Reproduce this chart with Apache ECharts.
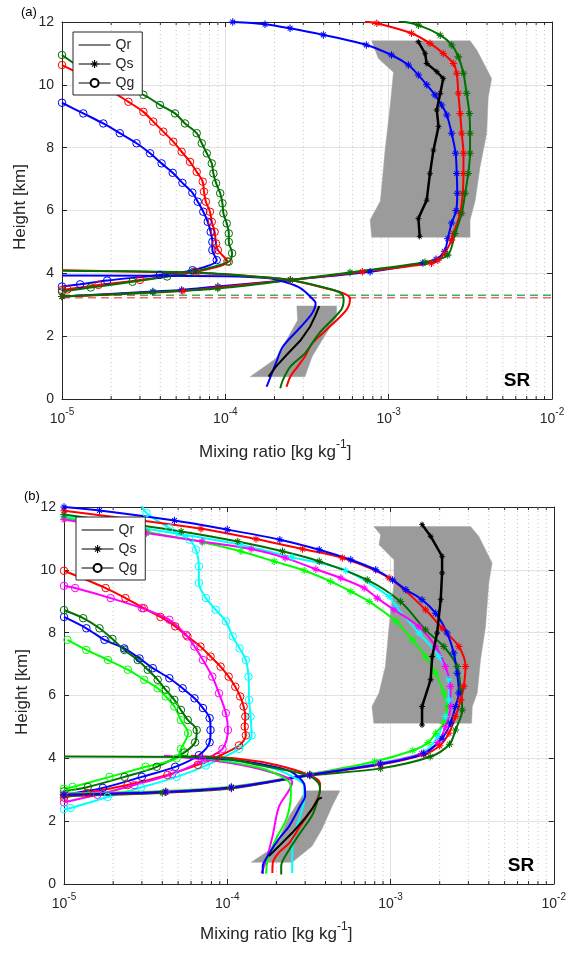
<!DOCTYPE html>
<html><head><meta charset="utf-8">
<script src="https://cdn.jsdelivr.net/npm/echarts@6/dist/echarts.min.js"></script>
<style>html,body{margin:0;padding:0;background:#fff}#c{width:569px;height:954px}</style>
</head><body><div id="c"></div>
<script>
// ---------- axes ----------
const xMin = 1e-5, xMax = 1e-2, yMin = 0, yMax = 12, yStep = 2;
const decades = [1e-5, 1e-4, 1e-3];
const minorMult = [2, 3, 4, 5, 6, 7, 8, 9];
const legendNames = ['Qr', 'Qs', 'Qg'];
const panelLabels = ['(a)', '(b)'];
const regionLabel = 'SR';

// ---------- panel (a): [mixing ratio, height km] ----------
const a_blue_Qs = [[1.11e-4,12.0],[1.75e-4,11.93],[2.49e-4,11.8],[3.98e-4,11.59],[7.3e-4,11.27],[1.04e-3,10.95],[1.32e-3,10.63],[1.52e-3,10.31],[1.71e-3,10.0],[1.92e-3,9.68],[2.11e-3,9.36],[2.27e-3,9.04],[2.43e-3,8.46],[2.57e-3,7.82],[2.61e-3,7.18],[2.63e-3,6.55],[2.59e-3,6.0],[2.43e-3,5.6],[2.3e-3,5.1],[2.2e-3,4.7],[1.95e-3,4.45],[1.62e-3,4.33],[7.7e-4,4.05],[2.5e-4,3.79],[9e-5,3.58],[5.4e-5,3.47],[3.6e-5,3.42],[1e-5,3.26]];
const a_red_Qs = [[7.16e-4,12.01],[8.46e-4,11.96],[1.38e-3,11.64],[1.79e-3,11.32],[2.16e-3,11.0],[2.49e-3,10.68],[2.61e-3,10.37],[2.67e-3,9.73],[2.74e-3,9.09],[2.8e-3,8.46],[2.87e-3,7.82],[2.87e-3,7.18],[2.84e-3,6.55],[2.74e-3,5.91],[2.49e-3,5.27],[2.43e-3,5.06],[2.2e-3,4.64],[2.0e-3,4.42],[1.83e-3,4.32],[6.9e-4,4.05],[2.5e-4,3.79],[9e-5,3.55],[5.5e-5,3.44],[1e-5,3.26]];
const a_green_Qs = [[1.15e-3,12.04],[1.52e-3,11.9],[2.07e-3,11.58],[2.43e-3,11.27],[2.67e-3,10.89],[2.87e-3,10.37],[3.0e-3,9.73],[3.12e-3,9.09],[3.15e-3,8.46],[3.15e-3,7.82],[3.07e-3,7.18],[2.94e-3,6.55],[2.8e-3,5.91],[2.55e-3,5.27],[2.3e-3,4.58],[1.67e-3,4.35],[5.8e-4,4.03],[2.5e-4,3.79],[9e-5,3.52],[3.6e-5,3.4],[1e-5,3.26]];
const a_blue_Qg = [[1e-5,9.43],[1.35e-5,9.09],[1.79e-5,8.77],[2.26e-5,8.46],[2.86e-5,8.14],[3.46e-5,7.82],[4.07e-5,7.5],[4.76e-5,7.2],[5.46e-5,6.88],[6.28e-5,6.57],[6.78e-5,6.28],[7.33e-5,5.96],[7.8e-5,5.64],[8.13e-5,5.32],[8.33e-5,5.0],[8.33e-5,4.74],[8.86e-5,4.42],[6.3e-5,4.1],[3.97e-5,3.95],[1.89e-5,3.77],[1.29e-5,3.65],[1e-5,3.58]];
const a_red_Qg = [[1e-5,10.63],[1.6e-5,10.1],[2.55e-5,9.46],[3.15e-5,9.14],[3.62e-5,8.83],[4.17e-5,8.51],[4.8e-5,8.19],[5.4e-5,7.87],[6.08e-5,7.55],[6.68e-5,7.23],[7.27e-5,6.92],[7.4e-5,6.6],[7.6e-5,6.28],[8.05e-5,5.96],[8.26e-5,5.64],[8.6e-5,5.32],[8.77e-5,4.95],[9e-5,4.74],[1.03e-4,4.38],[6.6e-5,4.05],[3e-5,3.79],[1.67e-5,3.63],[1.08e-5,3.49],[1e-5,3.47]];
const a_green_Qg = [[1e-5,10.95],[1.32e-5,10.52],[1.97e-5,9.99],[3.15e-5,9.68],[3.98e-5,9.36],[4.92e-5,9.09],[5.66e-5,8.77],[6.68e-5,8.46],[7.17e-5,8.14],[7.7e-5,7.82],[8.26e-5,7.5],[8.45e-5,7.18],[8.78e-5,6.87],[9.3e-5,6.55],[9.6e-5,6.23],[9.73e-5,5.91],[1.02e-4,5.59],[1.05e-4,5.27],[1.05e-4,5.0],[1.1e-4,4.64],[1.05e-4,4.37],[6.4e-5,4.05],[4.4e-5,3.9],[2.7e-5,3.73],[1.5e-5,3.55],[1e-5,3.42]];
const a_blue_Qr = [[1e-5,3.93],[1e-4,3.91],[1.8e-4,3.85],[2.4e-4,3.7],[2.9e-4,3.52],[3.4e-4,3.2],[3.57e-4,3.05],[3.4e-4,2.73],[2.9e-4,2.3],[2.25e-4,1.67],[2.04e-4,1.14],[1.79e-4,0.39]];
const a_red_Qr = [[1e-5,4.1],[7.3e-5,4.0],[1.5e-4,3.9],[2.5e-4,3.79],[4.15e-4,3.52],[5.3e-4,3.36],[5.8e-4,3.2],[5.5e-4,2.83],[4.15e-4,2.2],[3.4e-4,1.77],[3.07e-4,1.35],[2.77e-4,1.03],[2.5e-4,0.71],[2.37e-4,0.39]];
const a_green_Qr = [[1e-5,4.08],[7e-5,4.02],[1.5e-4,3.9],[2.5e-4,3.79],[4.6e-4,3.47],[5.2e-4,3.33],[5.3e-4,3.15],[5.1e-4,2.83],[3.75e-4,2.09],[3.07e-4,1.45],[2.5e-4,1.03],[2.25e-4,0.6],[2.17e-4,0.34]];
const a_obs_Qr = [[1.84e-4,0.71],[2.04e-4,1.03],[2.37e-4,1.4],[2.9e-4,1.88],[3.3e-4,2.3],[3.57e-4,2.67],[3.76e-4,2.96]];
const a_obs_Qs = [[1.52e-3,11.37],[1.67e-3,11.0],[1.71e-3,10.68],[1.97e-3,10.42],[2.16e-3,10.2],[2.07e-3,9.73],[1.97e-3,9.2],[2.02e-3,8.67],[1.88e-3,7.92],[1.79e-3,7.18],[1.71e-3,6.33],[1.52e-3,5.75],[1.55e-3,5.17]];
const a_envQr_left = [[1.42e-4,0.71],[2.04e-4,1.29],[2.37e-4,1.88],[2.77e-4,2.51],[2.74e-4,2.96]];
const a_envQr_right = [[3.07e-4,0.71],[3.4e-4,1.35],[4.15e-4,2.09],[4.8e-4,2.62],[4.8e-4,2.96]];
const a_envQs_left = [[7.87e-4,11.4],[8.65e-4,10.84],[1.07e-3,10.4],[1.02e-3,9.3],[9.5e-4,7.9],[8.9e-4,6.3],[7.7e-4,5.7],[7.87e-4,5.15]];
const a_envQs_right = [[3.15e-3,11.4],[3.47e-3,11.1],[4.27e-3,10.2],[4.07e-3,9.6],[3.98e-3,8.45],[3.63e-3,7.4],[3.39e-3,6.33],[3.15e-3,5.7],[3.15e-3,5.15]];
const a_melt_levels = [3.3, 3.22];

// ---------- panel (b) ----------
const b_blue_Qs = [[1e-5,12.0],[1.65e-5,11.89],[4.75e-5,11.57],[1.0e-4,11.28],[2.1e-4,10.96],[3.66e-4,10.64],[5.71e-4,10.32],[8.12e-4,10.0],[1.03e-3,9.68],[1.24e-3,9.37],[1.56e-3,9.05],[1.89e-3,8.62],[2.22e-3,7.99],[2.44e-3,7.35],[2.56e-3,6.71],[2.62e-3,6.08],[2.5e-3,5.65],[2.33e-3,5.12],[2.07e-3,4.64],[1.6e-3,4.15],[8.7e-4,3.82],[3.2e-4,3.47],[1.06e-4,3.07],[4.2e-5,2.93],[1e-5,2.84]];
const b_red_Qs = [[1e-5,11.88],[6.9e-5,11.31],[1.5e-4,10.98],[2.89e-4,10.66],[5.07e-4,10.38],[9.8e-4,9.74],[1.64e-3,8.73],[2.07e-3,8.14],[2.62e-3,7.56],[2.88e-3,6.92],[2.81e-3,6.29],[2.69e-3,5.86],[2.5e-3,5.33],[2.28e-3,4.8],[2.0e-3,4.4],[1.6e-3,4.12],[8.7e-4,3.8],[3.2e-4,3.47],[1.06e-4,3.06],[4.2e-5,2.92],[1e-5,2.83]];
const b_dkgreen_Qs = [[1e-5,11.76],[5.22e-5,11.22],[1.16e-4,10.9],[2.18e-4,10.59],[3.66e-4,10.27],[7.2e-4,9.68],[1.15e-3,8.99],[1.64e-3,8.09],[2.12e-3,7.56],[2.56e-3,6.92],[2.69e-3,6.18],[2.75e-3,5.54],[2.5e-3,4.9],[2.3e-3,4.45],[1.75e-3,4.05],[8.7e-4,3.68],[3.2e-4,3.45],[1.06e-4,3.04],[4e-5,2.9],[1e-5,2.8]];
const b_magenta_Qs = [[1e-5,11.6],[3.2e-5,11.17],[7e-5,10.9],[1.4e-4,10.66],[2.26e-4,10.38],[3.49e-4,10.02],[4.96e-4,9.74],[6.89e-4,9.42],[8.3e-4,9.1],[1.05e-3,8.73],[1.49e-3,8.2],[1.89e-3,7.56],[2.17e-3,6.92],[2.33e-3,6.29],[2.33e-3,5.65],[2.17e-3,5.01],[1.95e-3,4.5],[1.55e-3,4.15],[8.5e-4,3.83],[3.2e-4,3.48],[1.06e-4,3.08],[4.2e-5,2.94],[1e-5,2.86]];
const b_cyan_Qs = [[1e-5,11.7],[5e-5,11.15],[1.2e-4,10.8],[2.5e-4,10.4],[5.31e-4,9.98],[9.8e-4,9.15],[1.08e-3,8.83],[1.49e-3,7.99],[1.98e-3,7.24],[2.28e-3,6.5],[2.28e-3,5.86],[2.17e-3,5.33],[1.95e-3,4.7],[1.6e-3,4.2],[8.5e-4,3.85],[3.2e-4,3.48],[1.06e-4,3.08],[4.2e-5,2.94],[1e-5,2.87]];
const b_lime_Qs = [[1e-5,11.65],[3.26e-5,11.2],[7.08e-5,10.88],[1.21e-4,10.59],[1.94e-4,10.27],[2.96e-4,9.98],[4.3e-4,9.63],[5.71e-4,9.31],[7.4e-4,8.99],[1.08e-3,8.36],[1.36e-3,7.77],[1.64e-3,7.24],[1.89e-3,6.71],[2.12e-3,6.08],[2.22e-3,5.65],[2.12e-3,5.12],[1.89e-3,4.8],[1.7e-3,4.5],[1.37e-3,4.25],[8e-4,3.9],[3.2e-4,3.5],[1.06e-4,3.1],[4.2e-5,2.96],[1e-5,2.88]];
const b_blue_Qg = [[1e-5,8.5],[1.37e-5,8.14],[1.77e-5,7.77],[2.34e-5,7.5],[2.9e-5,7.18],[3.5e-5,6.87],[4.42e-5,6.55],[5.33e-5,6.23],[6.3e-5,5.91],[7.1e-5,5.6],[7.8e-5,5.28],[7.9e-5,4.9],[7.8e-5,4.51],[6.7e-5,4.1],[4.8e-5,3.73],[3e-5,3.41],[1.73e-5,3.06],[1e-5,2.85]];
const b_red_Qg = [[1e-5,9.97],[1.8e-5,9.42],[2.38e-5,9.1],[3.08e-5,8.78],[3.9e-5,8.5],[4.8e-5,8.2],[5.7e-5,7.88],[6.85e-5,7.56],[7.9e-5,7.24],[9.1e-5,6.92],[1.02e-4,6.6],[1.12e-4,6.28],[1.2e-4,5.97],[1.26e-4,5.65],[1.29e-4,5.33],[1.28e-4,5.01],[1.3e-4,4.73],[1.18e-4,4.41],[8.7e-5,4.05],[6.6e-5,3.79],[4.3e-5,3.47],[2.45e-5,3.15],[1.38e-5,2.9],[1e-5,2.75]];
const b_dkgreen_Qg = [[1e-5,8.72],[1.31e-5,8.46],[1.65e-5,8.14],[1.98e-5,7.8],[2.34e-5,7.45],[2.83e-5,7.13],[3.26e-5,6.82],[3.75e-5,6.5],[4.2e-5,6.18],[4.74e-5,5.86],[5.2e-5,5.54],[5.73e-5,5.22],[6.5e-5,4.9],[6.36e-5,4.51],[5.47e-5,4.19],[3.7e-5,3.73],[2.35e-5,3.41],[1.4e-5,3.09],[1e-5,2.95]];
const b_magenta_Qg = [[1e-5,9.49],[1.17e-5,9.42],[1.93e-5,9.1],[3.0e-5,8.78],[4.42e-5,8.41],[5.6e-5,7.93],[6.3e-5,7.56],[7.1e-5,7.13],[8.1e-5,6.6],[8.9e-5,6.07],[9.8e-5,5.44],[1.01e-4,4.9],[9.35e-5,4.3],[7.06e-5,3.93],[4.6e-5,3.5],[2.7e-5,3.15],[1.6e-5,2.84],[1e-5,2.6]];
const b_cyan_Qg = [[2.9e-5,12.2],[3.2e-5,11.81],[4.42e-5,11.33],[5.86e-5,10.96],[6.44e-5,10.64],[6.7e-5,10.11],[6.7e-5,9.58],[7.4e-5,9.1],[8.5e-5,8.73],[9.8e-5,8.36],[1.08e-4,7.88],[1.19e-4,7.5],[1.3e-4,7.13],[1.35e-4,6.6],[1.36e-4,5.86],[1.39e-4,5.33],[1.41e-4,4.73],[1.18e-4,4.3],[7.4e-5,3.77],[4.9e-5,3.41],[2.96e-5,3.07],[1.85e-5,2.77],[1.1e-5,2.42],[1e-5,2.38]];
const b_lime_Qg = [[1.05e-5,7.77],[1.37e-5,7.45],[1.86e-5,7.13],[2.46e-5,6.82],[3.1e-5,6.5],[3.75e-5,6.23],[4.2e-5,5.97],[4.74e-5,5.65],[5.2e-5,5.22],[5.75e-5,4.8],[5.2e-5,4.3],[4.9e-5,4.0],[3.16e-5,3.73],[1.9e-5,3.41],[1.13e-5,3.09],[1e-5,3.03]];
const b_blue_Qr = [[5e-5,4.06],[1.1e-4,3.95],[1.6e-4,3.82],[2.4e-4,3.6],[2.96e-4,3.18],[3.0e-4,2.81],[2.8e-4,2.49],[2.4e-4,1.85],[2.06e-4,1.42],[1.77e-4,0.89],[1.65e-4,0.57],[1.65e-4,0.33]];
const b_red_Qr = [[6e-5,4.08],[1.2e-4,3.98],[2.0e-4,3.79],[3.18e-4,3.47],[3.7e-4,3.2],[3.7e-4,3.02],[3.4e-4,2.49],[2.8e-4,1.85],[2.4e-4,1.31],[2.06e-4,0.99],[1.9e-4,0.67],[1.89e-4,0.35]];
const b_dkgreen_Qr = [[1e-5,4.06],[8.7e-5,4.03],[1.45e-4,3.82],[3.1e-4,3.47],[3.6e-4,3.23],[3.7e-4,3.02],[3.6e-4,2.7],[3.3e-4,2.17],[2.8e-4,1.63],[2.4e-4,1.1],[2.14e-4,0.57],[2.14e-4,0.3]];
const b_magenta_Qr = [[4.1e-5,4.08],[9e-5,3.9],[1.6e-4,3.65],[2.5e-4,3.25],[2.4e-4,3.0],[2.07e-4,2.45],[1.89e-4,1.5],[1.73e-4,0.75],[1.62e-4,0.35]];
const b_cyan_Qr = [[5.5e-5,4.05],[1.2e-4,3.9],[1.97e-4,3.66],[2.67e-4,3.34],[2.96e-4,3.13],[2.96e-4,2.7],[2.8e-4,2.17],[2.6e-4,1.63],[2.5e-4,1.1],[2.5e-4,0.35]];
const b_lime_Qr = [[5.1e-5,4.11],[1.58e-4,3.7],[2.4e-4,3.25],[2.45e-4,3.0],[2.45e-4,2.81],[2.3e-4,2.06],[1.98e-4,1.42],[1.77e-4,0.78],[1.73e-4,0.33]];
const b_obs_Qr = [[1.8e-4,0.89],[2.17e-4,1.31],[2.5e-4,1.63],[2.96e-4,2.06],[3.3e-4,2.38],[3.6e-4,2.7],[3.8e-4,2.75]];
const b_obs_Qs = [[1.56e-3,11.44],[1.76e-3,11.07],[2.07e-3,10.43],[2.07e-3,9.9],[2.03e-3,9.05],[1.93e-3,7.99],[1.8e-3,7.24],[1.76e-3,6.5],[1.56e-3,5.65],[1.56e-3,5.06]];
const b_envQr_left = [[1.4e-4,0.69],[1.97e-4,1.2],[2.4e-4,2.17],[2.8e-4,2.7],[3.0e-4,2.97]];
const b_envQr_right = [[2.5e-4,0.69],[3.3e-4,1.2],[3.8e-4,1.74],[4.4e-4,2.49],[4.9e-4,2.97]];
const b_envQs_left = [[7.9e-4,11.38],[8.7e-4,11.12],[8.5e-4,10.8],[1.05e-3,10.32],[1.05e-3,9.58],[9.8e-4,8.2],[9.3e-4,6.92],[8.5e-4,6.08],[7.7e-4,5.65],[7.9e-4,5.12]];
const b_envQs_right = [[3.09e-3,11.38],[3.47e-3,11.07],[4.19e-3,10.22],[4.0e-3,9.58],[3.82e-3,8.2],[3.56e-3,7.14],[3.4e-3,6.08],[3.17e-3,5.65],[3.14e-3,5.12]];

// ---------- styling ----------
const C = {blue:'#0000ff', red:'#ff0000', dkgreen:'#007000', magenta:'#ff00ff', cyan:'#00ffff', lime:'#00ff00', black:'#000000'};
const INK = '#262626', GRIDC = '#e2e2e2', FONT = '"Liberation Sans", Arial, sans-serif';
const STAR = 'path://M8.6 0L11.4 0L11.4 20L8.6 20ZM0 8.6L20 8.6L20 11.4L0 11.4ZM2.6 4.4L4.4 2.6L17.4 15.6L15.6 17.4ZM15.6 2.6L17.4 4.4L4.4 17.4L2.6 15.6Z';

const minorVals = [];
decades.forEach(d => minorMult.forEach(m => minorVals.push([d * m, yMin])));

function prof(data, color, kind, gi) {
  const s = {type:'line', xAxisIndex: gi*2, yAxisIndex: gi*2, data: data, smooth: 0.3,
    lineStyle:{color: color, width: 2}, itemStyle:{color: color},
    emphasis:{disabled:true}, silent:true, animation:false, z: 3};
  if (kind === 'r') s.symbol = 'none';
  else if (kind === 's') { s.symbol = STAR; s.symbolSize = 7.5; }
  else { s.symbol = 'circle'; s.symbolSize = 7.5; s.itemStyle = {color:'rgba(0,0,0,0)', borderColor: color, borderWidth: 1}; }
  return s;
}
function minorSeries(gi) {
  return {type:'custom', xAxisIndex: gi*2, yAxisIndex: gi*2, data: minorVals, silent:true, z:1, animation:false,
    encode:{x:0, y:1},
    renderItem: function (params, api) {
      const v = api.value(0);
      const p0 = api.coord([v, yMin]), p1 = api.coord([v, yMax]);
      return {type:'group', children:[
        {type:'line', shape:{x1:p0[0], y1:p0[1], x2:p1[0], y2:p1[1]}, style:{stroke:'#c4c4c4', lineWidth:1, lineDash:[1,3]}},
        {type:'line', shape:{x1:p0[0], y1:p0[1], x2:p0[0], y2:p0[1]-3}, style:{stroke:INK, lineWidth:1}},
        {type:'line', shape:{x1:p1[0], y1:p1[1], x2:p1[0], y2:p1[1]+3}, style:{stroke:INK, lineWidth:1}}
      ]};
    }};
}
function envSeries(left, right, gi) {
  const poly = left.concat(right.slice().reverse());
  return {type:'custom', xAxisIndex: gi*2, yAxisIndex: gi*2, data: poly, silent:true, z:2, animation:false,
    encode:{x:0, y:1},
    renderItem: function (params, api) {
      if (params.dataIndex !== 0) return null;
      const pts = poly.map(p => api.coord(p));
      return {type:'polygon', shape:{points: pts}, style:{fill:'#9b9b9b', stroke:'#a6a6a6', lineWidth:0.5}};
    }};
}
function obsSeries(data, gi, star) {
  return {type:'line', xAxisIndex: gi*2, yAxisIndex: gi*2, data: data, smooth:false,
    symbol: star ? STAR : 'none', symbolSize: 6,
    lineStyle:{color:'#000', width: star ? 2.5 : 2}, itemStyle:{color:'#000'},
    emphasis:{disabled:true}, silent:true, animation:false, z:4};
}

const labelFmt = v => '{b|10}{s|' + Math.round(Math.log10(v)) + '}';
const richLab = {b:{fontSize:14, color:INK, fontFamily:FONT, padding:[6,0,0,0]}, s:{fontSize:10, color:INK, fontFamily:FONT, padding:[0,0,7,0]}};

const grids = [{left:62, top:22, width:490, height:377}, {left:64, top:507, width:491, height:377}];
const xAxes = [], yAxes = [];
grids.forEach((g, i) => {
  xAxes.push({gridIndex:i, type:'log', logBase:10, min:xMin, max:xMax, position:'bottom',
    axisLine:{show:true, onZero:false, lineStyle:{color:INK, width:1}},
    axisTick:{show:true, inside:true, length:5, lineStyle:{color:INK}},
    axisLabel:{show:true, formatter: labelFmt, rich: richLab, margin:7},
    splitLine:{show:true, lineStyle:{color:GRIDC, width:1}}, minorTick:{show:false}});
  xAxes.push({gridIndex:i, type:'log', logBase:10, min:xMin, max:xMax, position:'top',
    axisLine:{show:true, onZero:false, lineStyle:{color:INK, width:1}},
    axisTick:{show:true, inside:true, length:5, lineStyle:{color:INK}},
    axisLabel:{show:false}, splitLine:{show:false}});
  yAxes.push({gridIndex:i, type:'value', min:yMin, max:yMax, interval:yStep, position:'left',
    axisLine:{show:true, onZero:false, lineStyle:{color:INK, width:1}},
    axisTick:{show:true, inside:true, length:5, lineStyle:{color:INK}},
    axisLabel:{show:true, fontSize:14, color:INK, fontFamily:FONT, margin:8},
    splitLine:{show:true, lineStyle:{color:GRIDC, width:1}}});
  yAxes.push({gridIndex:i, type:'value', min:yMin, max:yMax, interval:yStep, position:'right',
    axisLine:{show:true, onZero:false, lineStyle:{color:INK, width:1}},
    axisTick:{show:true, inside:true, length:5, lineStyle:{color:INK}},
    axisLabel:{show:false}, splitLine:{show:false}});
});

const series = [];
// panel a
series.push(minorSeries(0));
series.push(envSeries(a_envQr_left, a_envQr_right, 0));
series.push(envSeries(a_envQs_left, a_envQs_right, 0));
const meltColors = ['rgba(40,170,70,0.9)', 'rgba(240,80,90,0.85)'];
a_melt_levels.forEach((h, k) => series.push({type:'line', xAxisIndex:0, yAxisIndex:0, data:[[xMin, h],[xMax, h]], symbol:'none',
  lineStyle:{color: meltColors[k], width:1.5, type:[8,5]}, silent:true, animation:false, z:2}));
[[a_blue_Qg,'blue'],[a_red_Qg,'red'],[a_green_Qg,'dkgreen']].forEach(p => series.push(prof(p[0], C[p[1]], 'g', 0)));
[[a_blue_Qs,'blue'],[a_red_Qs,'red'],[a_green_Qs,'dkgreen']].forEach(p => series.push(prof(p[0], C[p[1]], 's', 0)));
[[a_blue_Qr,'blue'],[a_red_Qr,'red'],[a_green_Qr,'dkgreen']].forEach(p => series.push(prof(p[0], C[p[1]], 'r', 0)));
series.push(obsSeries(a_obs_Qs, 0, true));
series.push(obsSeries(a_obs_Qr, 0, false));
// panel b
series.push(minorSeries(1));
series.push(envSeries(b_envQr_left, b_envQr_right, 1));
series.push(envSeries(b_envQs_left, b_envQs_right, 1));
series.push(obsSeries(b_obs_Qs, 1, true));
[[b_blue_Qg,'blue'],[b_red_Qg,'red'],[b_dkgreen_Qg,'dkgreen'],[b_magenta_Qg,'magenta'],[b_cyan_Qg,'cyan'],[b_lime_Qg,'lime']].forEach(p => series.push(prof(p[0], C[p[1]], 'g', 1)));
[[b_cyan_Qs,'cyan'],[b_lime_Qs,'lime'],[b_magenta_Qs,'magenta'],[b_dkgreen_Qs,'dkgreen'],[b_red_Qs,'red'],[b_blue_Qs,'blue']].forEach(p => series.push(prof(p[0], C[p[1]], 's', 1)));
[[b_cyan_Qr,'cyan'],[b_magenta_Qr,'magenta'],[b_lime_Qr,'lime'],[b_blue_Qr,'blue'],[b_red_Qr,'red'],[b_dkgreen_Qr,'dkgreen']].forEach(p => series.push(prof(p[0], C[p[1]], 'r', 1)));
series.push(obsSeries(b_obs_Qr, 1, false));
// legend entries
series.push({type:'line', name:legendNames[0], xAxisIndex:0, yAxisIndex:0, data:[], symbol:'none', lineStyle:{color:'#000', width:1.2}, itemStyle:{color:'#000'}});
series.push({type:'line', name:legendNames[1], xAxisIndex:0, yAxisIndex:0, data:[], symbol:STAR, symbolSize:7, lineStyle:{color:'#000', width:1.2}, itemStyle:{color:'#000'}});
series.push({type:'line', name:legendNames[2], xAxisIndex:0, yAxisIndex:0, data:[], symbol:'circle', symbolSize:7, lineStyle:{color:'#000', width:1.2}, itemStyle:{color:'#fff', borderColor:'#000', borderWidth:1}});

function legend(left, top) {
  return {data: [
      {name: legendNames[0], itemStyle:{color:'rgba(0,0,0,0)', borderColor:'rgba(0,0,0,0)', borderWidth:0}},
      {name: legendNames[1]},
      {name: legendNames[2]}],
    orient:'vertical', left:left, top:top, itemWidth:32, itemHeight:10, itemGap:5,
    lineStyle:{color:'#000', width:1.2},
    padding:[6,8,5,5], backgroundColor:'#fff', borderColor:INK, borderWidth:1, borderRadius:0,
    selectedMode:false, textStyle:{fontSize:14, color:INK, fontFamily:FONT}, z:10};
}

function xTitle(cx, cy) {
  return {type:'text', left:cx - 94, top:cy - 12, z:20, style:{text:'{t|Mixing ratio [kg kg}{s|-1}{t|]}',
    rich:{t:{fontSize:17, fill:INK, fontFamily:FONT, padding:[6,0,0,0]}, s:{fontSize:12, fill:INK, fontFamily:FONT, padding:[0,0,8,0]}}}};
}
function yTitle(cx, cy) {
  return {type:'text', x:cx, y:cy, rotation:Math.PI/2, z:20, style:{text:'Height [km]', font:'17px ' + FONT, fill:INK, align:'center', verticalAlign:'middle'}};
}
const graphics = [
  {type:'text', left:21, top:6, z:20, style:{text:panelLabels[0], font:'13px ' + FONT, fill:'#000'}},
  {type:'text', left:24, top:490, z:20, style:{text:panelLabels[1], font:'13px ' + FONT, fill:'#000'}},
  yTitle(20, 207), yTitle(22, 692),
  xTitle(293, 451), xTitle(294, 933),
  {type:'text', x:517, y:381, z:20, style:{text:regionLabel, font:'bold 19px ' + FONT, fill:'#000', align:'center', verticalAlign:'middle'}},
  {type:'text', x:521, y:866, z:20, style:{text:regionLabel, font:'bold 19px ' + FONT, fill:'#000', align:'center', verticalAlign:'middle'}}
];

const chart = echarts.init(document.getElementById('c'), null, {renderer:'canvas'});
chart.setOption({
  animation:false, backgroundColor:'#fff',
  textStyle:{fontFamily:FONT},
  grid: grids, xAxis: xAxes, yAxis: yAxes,
  legend: [legend(73, 32), legend(76, 517)],
  series: series, graphic: graphics
});
</script></body></html>
